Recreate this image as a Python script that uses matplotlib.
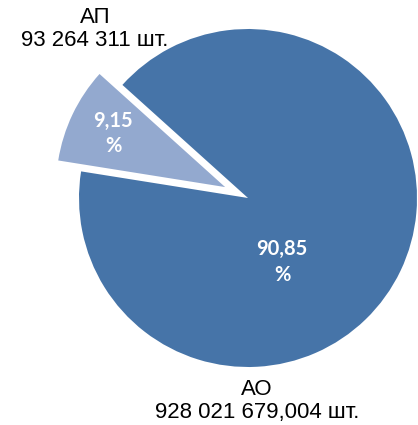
import matplotlib

matplotlib.use("Agg")
import matplotlib.pyplot as plt  # noqa: E402

# share of the total, percent
names = ["АО", "АП"]
counts = ["928 021 679,004 шт.", "93 264 311 шт."]
shares = [90.85, 9.15]
colors = ["#4674A8", "#93A9CF"]

fig = plt.figure(figsize=(4.18, 4.25), dpi=100)
ax = fig.add_axes([0, 0, 1, 1])

ax.pie(
    shares,
    colors=colors,
    explode=[0, 0.15],
    startangle=138,
    counterclock=False,
    radius=1.0,
    wedgeprops={"linewidth": 0},
)

# pie centre sits at (248, 198) px with radius 169 px
cx, cy, px = 248.0, 198.0, 169.0
ax.set_xlim(-cx / px, (418 - cx) / px)
ax.set_ylim(-(425 - cy) / px, cy / px)
ax.set_aspect("equal")
ax.axis("off")

# percentage labels inside the slices
pct_pos = [(0.201, -0.379), (-0.799, 0.382)]
for share, (x, y) in zip(shares, pct_pos):
    ax.text(
        x, y, f"{share:.2f}".replace(".", ",") + "\n%",
        ha="center", va="center", color="white", fontsize=14.5,
        fontweight="bold", family="Lato", linespacing=1.35,
    )

# category labels outside the pie
name_pos = [(0.053, -1.2), (-0.905, 1.0)]
for name, count, (x, y) in zip(names, counts, name_pos):
    ax.text(
        x, y, f"{name}\n{count}",
        ha="center", va="center", color="black", fontsize=16,
        family="Liberation Sans", linespacing=1.1,
    )

fig.savefig("out.png", dpi=100)
